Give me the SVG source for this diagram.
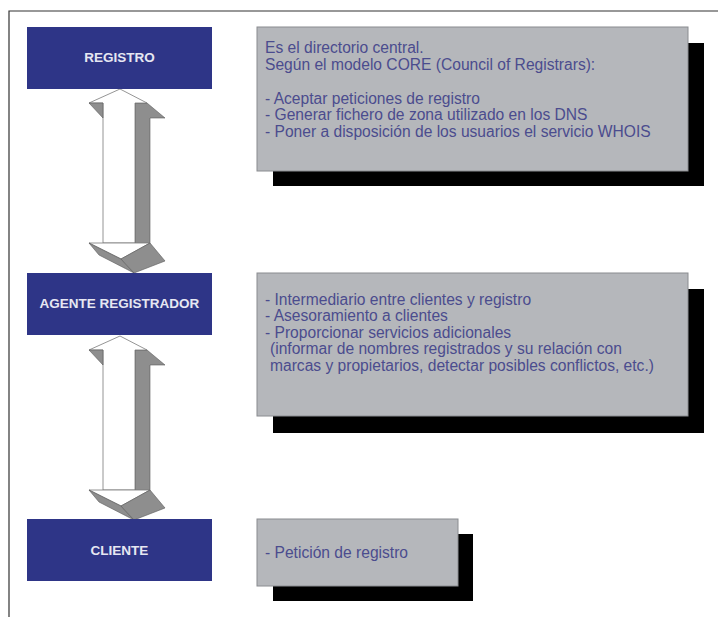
<svg xmlns="http://www.w3.org/2000/svg" width="718" height="617" viewBox="0 0 718 617">
<style>
.node{fill:#2e3587;}
.lbl{font-family:"Liberation Sans",Arial,sans-serif;font-size:13.5px;font-weight:bold;fill:#e6e7f2;text-anchor:middle;}
.box{fill:#b5b7bb;stroke:#8a8c90;stroke-width:1;}
.shadow{fill:#000;}
.txt{font-family:"Liberation Sans",Arial,sans-serif;font-size:15.6px;fill:#4b4c8e;}
.aw{fill:#fff;stroke:#7a7a7a;stroke-width:0.8;stroke-linejoin:round;}
.ag{fill:#8e8e8e;stroke:#5a5a5a;stroke-width:0.6;stroke-linejoin:round;}
</style>
<defs>
<g id="dblarrow">
<polygon class="ag" points="135,103 147,103 165,118 150,118 150,244 135,244"/>
<polygon class="aw" points="120,89 89,103 103,103 103,243 135,243 135,103 147,103"/>
<polygon class="ag" points="89,103 103,103 103,118"/>
<polygon class="aw" points="89,243 150,243 121,259"/>
<polygon class="ag" points="89,243 121,259 134,273 99,255"/>
<polygon class="ag" points="121,259 150,243 165,261 134,273"/>
</g>
</defs>
<rect width="718" height="617" fill="#fff"/>
<path d="M9,617 V11 H718" fill="none" stroke="#333" stroke-width="1.2"/>

<g id="connectors">
<use href="#dblarrow"/>
<use href="#dblarrow" transform="translate(0,247)"/>
</g>

<g id="registro">
<rect class="node" x="27" y="27" width="185" height="62"/>
<text class="lbl" x="119.5" y="62">REGISTRO</text>
</g>
<g id="agente">
<rect class="node" x="27" y="273" width="185" height="62"/>
<text class="lbl" x="119.5" y="308">AGENTE REGISTRADOR</text>
</g>
<g id="cliente">
<rect class="node" x="27" y="519" width="185" height="62"/>
<text class="lbl" x="119.5" y="555">CLIENTE</text>
</g>

<g id="desc-registro">
<rect class="shadow" x="273" y="43" width="431" height="143"/>
<rect class="box" x="257" y="27" width="431" height="144"/>
<text class="txt" x="265" y="53">Es el directorio central.</text>
<text class="txt" x="265" y="70">Según el modelo CORE (Council of Registrars):</text>
<text class="txt" x="265" y="104">- Aceptar peticiones de registro</text>
<text class="txt" x="265" y="120">- Generar fichero de zona utilizado en los DNS</text>
<text class="txt" x="265" y="137">- Poner a disposición de los usuarios el servicio WHOIS</text>
</g>
<g id="desc-agente">
<rect class="shadow" x="273" y="289" width="431" height="144"/>
<rect class="box" x="257" y="273" width="431" height="143"/>
<text class="txt" x="265" y="305">- Intermediario entre clientes y registro</text>
<text class="txt" x="265" y="321">- Asesoramiento a clientes</text>
<text class="txt" x="265" y="338">- Proporcionar servicios adicionales</text>
<text class="txt" x="270" y="354">(informar de nombres registrados y su relación con</text>
<text class="txt" x="270" y="371">marcas y propietarios, detectar posibles conflictos, etc.)</text>
</g>
<g id="desc-cliente">
<rect class="shadow" x="273" y="534" width="200" height="67"/>
<rect class="box" x="257" y="519" width="201" height="67"/>
<text class="txt" x="265" y="558">- Petición de registro</text>
</g>
</svg>
